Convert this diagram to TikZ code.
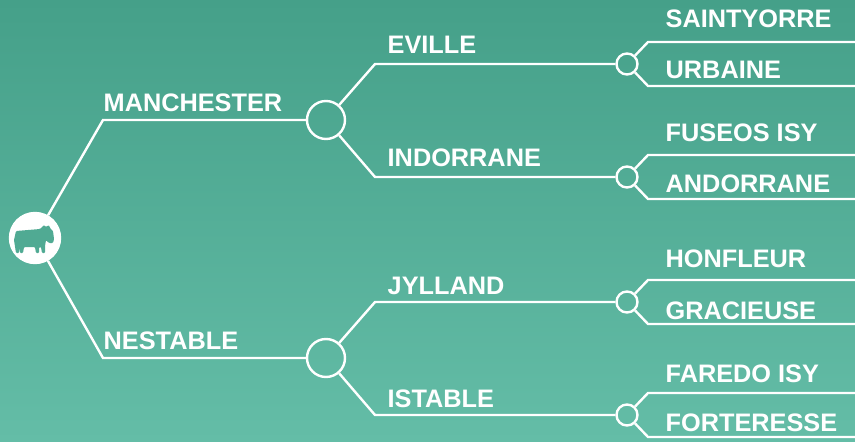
\documentclass[tikz,border=0pt]{standalone}
\usepackage{fontspec}
\setmainfont{Liberation Sans}
\definecolor{topgreen}{HTML}{45A089}
\definecolor{lowgreen}{HTML}{64BDA7}
\definecolor{cowgreen}{HTML}{50AA93}

\begin{document}
\begin{tikzpicture}[x=1pt,y=-1pt,white,line width=2.4pt,
  knot/.style={circle,draw=white,inner sep=0pt,minimum size=#1},
  horse/.style={anchor=base west,inner sep=0pt,font=\fontsize{25.3}{26}\selectfont\bfseries}]
\shade[top color=topgreen,bottom color=lowgreen] (0,0) rectangle (855,442);
\useasboundingbox (0,0) rectangle (855,442);

% generations
\node[knot=50pt,fill=white] (root) at (35,238) {};
\node[knot=38pt] (m) at (326,120) {};
\node[knot=38pt] (n) at (326,358) {};
\node[knot=21pt] (e) at (627,64) {};
\node[knot=21pt] (i) at (627,177) {};
\node[knot=21pt] (j) at (627,302) {};
\node[knot=21pt] (s) at (627,415) {};

% the cow
\fill[cowgreen,shift={(35,238)},rounded corners=1pt]
  (-19,-7) -- (5,-9) -- (9,-13) -- (11,-11) -- (14,-13) -- (15,-10) -- (18,-7)
  -- (19,1) -- (18,5) -- (14,5) -- (11,2) -- (10,8) -- (10,15) -- (7,15)
  -- (6,9) -- (4,9) -- (4,15) -- (1,15) -- (0,9) -- (-11,9) -- (-12,15)
  -- (-15,15) -- (-15,10) -- (-16,15) -- (-19,15) -- (-21,2) -- cycle;

\coordinate (rm) at (103,120);
\coordinate (rn) at (103,358);
\coordinate (me) at (375,64);
\coordinate (mi) at (375,177);
\coordinate (nj) at (375,302);
\coordinate (ns) at (375,415);

\draw (root) -- (rm) -- (m);
\draw (root) -- (rn) -- (n);
\draw (m) -- (me) -- (e);
\draw (m) -- (mi) -- (i);
\draw (n) -- (nj) -- (j);
\draw (n) -- (ns) -- (s);

\foreach \k/\y in {e/64,i/177,j/302,s/415}{
  \coordinate (\k a) at (648,\y-22);
  \coordinate (\k b) at (648,\y+22);
  \coordinate (\k A) at (860,\y-22);
  \coordinate (\k B) at (860,\y+22);
  \draw (\k) -- (\k a) -- (\k A);
  \draw (\k) -- (\k b) -- (\k B);
}

% names
\node[horse] (lm) at (102.5,111) {MANCHESTER};
\node[horse] (ln) at (102.5,349) {NESTABLE};
\node[horse] (le) at (386.5,53) {EVILLE};
\node[horse] (li) at (386.5,166) {INDORRANE};
\node[horse] (lj) at (386.5,294) {JYLLAND};
\node[horse] (ls) at (386.5,407) {ISTABLE};
\node[horse] (lea) at (664.5,27) {SAINTYORRE};
\node[horse] (leb) at (664.5,78) {URBAINE};
\node[horse] (lia) at (664.5,141) {FUSEOS ISY};
\node[horse] (lib) at (664.5,192) {ANDORRANE};
\node[horse] (lja) at (664.5,267) {HONFLEUR};
\node[horse] (ljb) at (664.5,319) {GRACIEUSE};
\node[horse] (lsa) at (664.5,382) {FAREDO ISY};
\node[horse] (lsb) at (664.5,431) {FORTERESSE};
\end{tikzpicture}
\end{document}
